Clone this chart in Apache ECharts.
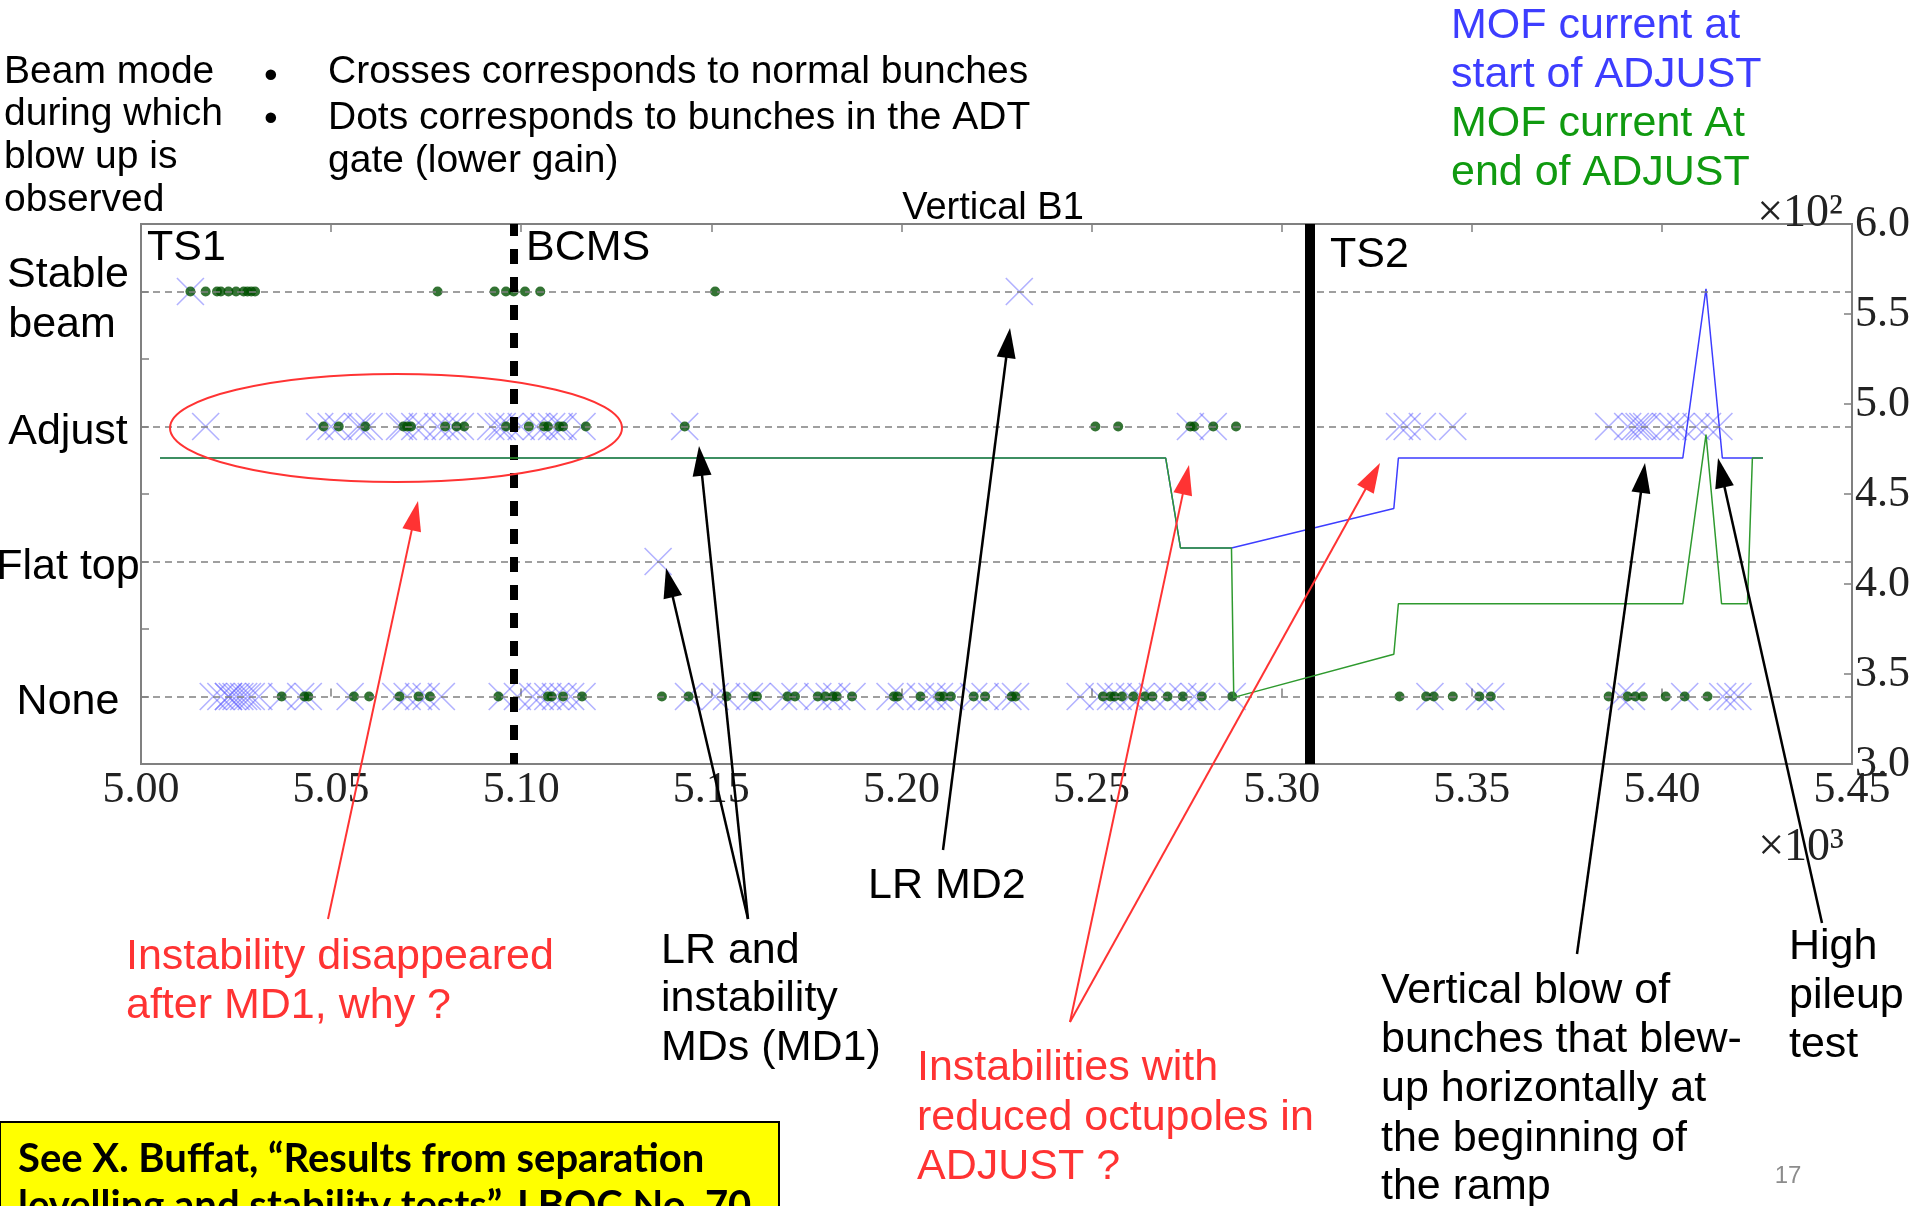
<!DOCTYPE html>
<html>
<head>
<meta charset="utf-8">
<script src="https://cdn.jsdelivr.net/npm/echarts@6/dist/echarts.min.js"></script>
<style>
html, body { margin: 0; padding: 0; background: #fff; }
#chart { width: 1917px; height: 1206px; }
</style>
</head>
<body>
<div id="chart"></div>
<script>
// Beam modes on the left axis (0 = None ... 3 = Stable beam)
const modeNames = ['None', 'Flat top', 'Adjust', 'Stable\nbeam '];

// Fill numbers with vertical blow-up, normal bunches (crosses)
const stableCross = [5013, 5231];
const adjustCross = [5017, 5047, 5050, 5052, 5057, 5058, 5060, 5068, 5069, 5072, 5074, 5078, 5080, 5082, 5084,
  5092, 5094, 5095, 5097, 5100, 5104, 5106, 5108, 5110, 5111, 5116, 5143, 5276, 5282,
  5331, 5333, 5337, 5345, 5386, 5391, 5393, 5394, 5395, 5396, 5401, 5403, 5405, 5409, 5412, 5415];
const flatTopCross = [5136];
const noneCross = [5019, 5021, 5023, 5023, 5024, 5025, 5026, 5027, 5028, 5029, 5031, 5037, 5042, 5044, 5055,
  5067, 5070, 5073, 5075, 5079, 5095, 5099, 5103, 5105, 5107, 5109, 5111, 5113, 5116,
  5144, 5151, 5154, 5160, 5162, 5169, 5172, 5178, 5181, 5183, 5187, 5197, 5200, 5205, 5208, 5210, 5213,
  5219, 5222, 5228, 5230, 5247, 5252, 5255, 5257, 5260, 5263, 5266, 5270, 5274, 5277, 5279, 5287,
  5339, 5352, 5355, 5389, 5392, 5406, 5416, 5418, 5420];

// Fill numbers with vertical blow-up, bunches in the ADT gate (dots)
const stableDot = [5013, 5017, 5020, 5021, 5023, 5025, 5027, 5028, 5029, 5030, 5078, 5093, 5096, 5098, 5101, 5105, 5151];
const adjustDot = [5048, 5052, 5059, 5069, 5070, 5071, 5080, 5083, 5085, 5096, 5102, 5106, 5107, 5110, 5111, 5117,
  5143, 5251, 5257, 5276, 5277, 5282, 5288];
const flatTopDot = [];
const noneDot = [5037, 5043, 5044, 5056, 5060, 5068, 5073, 5076, 5094, 5107, 5108, 5111, 5116,
  5137, 5144, 5154, 5161, 5162, 5170, 5172, 5178, 5180, 5182, 5183, 5187, 5198, 5199, 5205, 5210, 5211, 5213,
  5219, 5222, 5229, 5230, 5253, 5255, 5256, 5258, 5261, 5264, 5266, 5270, 5274, 5279, 5287,
  5331, 5338, 5340, 5345, 5352, 5355, 5386, 5391, 5393, 5395, 5401, 5406, 5412];

// MOF (octupole) current [A] at start / end of ADJUST vs fill number (right axis)
const mofStartFill = [5005, 5269.5, 5273.4, 5286.8, 5329.5, 5330.7, 5405.5, 5406.6, 5411.6, 5415.9, 5426.6];
const mofStartAmp  = [470, 470, 420, 420, 442, 470, 470, 487, 564, 470, 470];
const mofEndFill = [5005, 5269.5, 5273.4, 5286.8, 5287.4, 5329.5, 5330.7, 5405.5, 5411.6, 5415.7, 5422.5, 5423.8, 5426.6];
const mofEndAmp  = [470, 470, 420, 420, 337, 361, 389, 389, 483, 389, 389, 470, 470];

// Period boundaries (fill numbers): start of BCMS beams, technical stop 2
const bcmsFill = 5098;
const ts2Fill = 5307.5;

const SANS = '"Liberation Sans", Arial, sans-serif';
const SERIF = '"Liberation Serif", "Times New Roman", serif';
const RED = '#ff3333';
const BLUE = '#3d3dff';
const GREEN = '#109a10';

function pts(xs, level) { return xs.map(x => [x, level]); }
function pairs(xs, ys) { return xs.map((x, i) => [x, ys[i]]); }

const crossData = [].concat(pts(noneCross, 0), pts(flatTopCross, 1), pts(adjustCross, 2), pts(stableCross, 3));
const dotData = [].concat(pts(noneDot, 0), pts(flatTopDot, 1), pts(adjustDot, 2), pts(stableDot, 3));

// beam-mode label: single names sit a little below their level, the two-line one uses its own spacing
function modeLabel(v) {
  if (!Number.isInteger(v)) return '';
  const name = modeNames[v];
  if (name.indexOf('\n') >= 0) return name.split('\n').map(s => '{m|' + s + '}').join('\n');
  return '{s|' + name + '}';
}

// one line of slide text; y is the visual centre of the line
function txt(x, y, s, size, color, extra) {
  extra = extra || {};
  const dy = extra.dy === undefined ? 3 : extra.dy;
  return {
    type: 'text', x: x, y: y + dy, z: 100,
    style: {
      text: s,
      font: (extra.weight || 'normal') + ' ' + size + 'px ' + (extra.family || SANS),
      fill: color,
      align: extra.align || 'left',
      verticalAlign: 'middle'
    }
  };
}

function arrow(x1, y1, x2, y2, color, w) {
  const dx = x2 - x1, dy = y2 - y1, len = Math.hypot(dx, dy);
  const ux = dx / len, uy = dy / len, L = 30, hw = 9.5;
  const bx = x2 - ux * L, by = y2 - uy * L;
  return [
    { type: 'line', z: 100, shape: { x1: x1, y1: y1, x2: bx + ux * 2, y2: by + uy * 2 },
      style: { stroke: color, lineWidth: w } },
    { type: 'polygon', z: 100,
      shape: { points: [[x2, y2], [bx - uy * hw, by + ux * hw], [bx + uy * hw, by - ux * hw]] },
      style: { fill: color } }
  ];
}

const BOXFONT = 'Lato, "Open Sans", sans-serif';

const graphics = [
  // header notes
  txt(4, 69, 'Beam mode', 39, '#000'),
  txt(4, 111, 'during which', 39, '#000'),
  txt(4, 154, 'blow up is', 39, '#000'),
  txt(4, 197, 'observed', 39, '#000'),
  txt(264, 74, '\u2022', 39, '#000'),
  txt(264, 117, '\u2022', 39, '#000'),
  txt(328, 69, 'Crosses corresponds to normal bunches', 39, '#000'),
  txt(328, 115, 'Dots corresponds to bunches in the ADT', 39, '#000'),
  txt(328, 158, 'gate (lower gain)', 39, '#000'),
  txt(993, 206, 'Vertical B1', 38, '#000', { align: 'center' }),
  txt(1451, 23, 'MOF current at', 43, BLUE),
  txt(1451, 72, 'start of ADJUST', 43, BLUE),
  txt(1451, 121, 'MOF current At', 43, GREEN),
  txt(1451, 170, 'end of ADJUST', 43, GREEN),
  // period labels inside the plot
  txt(147, 245, 'TS1', 43, '#000'),
  txt(526, 245, 'BCMS', 43, '#000'),
  txt(1330, 252, 'TS2', 43, '#000'),
  // axis multipliers
  txt(1800, 211, '\u00d710\u00b2', 46, '#222', { family: SERIF, align: 'center' }),
  txt(1801, 845, '\u00d710\u00b3', 46, '#222', { family: SERIF, align: 'center' }),
  // highlighted group in ADJUST
  { type: 'ellipse', z: 100, shape: { cx: 396, cy: 428, rx: 226, ry: 54 },
    style: { stroke: RED, fill: null, lineWidth: 2 } },
  // annotations
  txt(126, 954, 'Instability disappeared', 43, RED),
  txt(126, 1003, 'after MD1, why ?', 43, RED),
  txt(661, 948, 'LR and', 43, '#000'),
  txt(661, 996, 'instability', 43, '#000'),
  txt(661, 1045, 'MDs (MD1)', 43, '#000'),
  txt(868, 883, 'LR MD2', 43, '#000'),
  txt(917, 1065, 'Instabilities with', 43, RED),
  txt(917, 1115, 'reduced octupoles in', 43, RED),
  txt(917, 1164, 'ADJUST ?', 43, RED),
  txt(1381, 988, 'Vertical blow of', 43, '#000'),
  txt(1381, 1037, 'bunches that blew-', 43, '#000'),
  txt(1381, 1086, 'up horizontally at', 43, '#000'),
  txt(1381, 1136, 'the beginning of', 43, '#000'),
  txt(1381, 1184, 'the ramp', 43, '#000'),
  txt(1789, 944, 'High', 43, '#000'),
  txt(1789, 993, 'pileup', 43, '#000'),
  txt(1789, 1042, 'test', 43, '#000'),
  txt(1788, 1176, '17', 24, '#8c8c8c', { align: 'center', dy: 0 }),
  // reference box
  { type: 'rect', z: 100, shape: { x: 0, y: 1122, width: 779, height: 120 },
    style: { fill: '#ffff00', stroke: '#000', lineWidth: 2 } },
  txt(18, 1159, 'See X. Buffat, \u201cResults from separation', 40, '#000', { weight: 'bold', family: BOXFONT, dy: 0 }),
  txt(18, 1206, 'levelling and stability tests\u201d, LBOC No. 70', 40, '#000', { weight: 'bold', family: BOXFONT, dy: 0 })
]
  .concat(arrow(328, 919, 418, 501, RED, 2))
  .concat(arrow(1070, 1022, 1189, 465, RED, 2))
  .concat(arrow(1070, 1022, 1380, 463, RED, 2))
  .concat(arrow(748, 919, 666, 568, '#000', 2.5))
  .concat(arrow(748, 919, 699, 446, '#000', 2.5))
  .concat(arrow(943, 850, 1010, 328, '#000', 2.5))
  .concat(arrow(1577, 954, 1645, 463, '#000', 2.5))
  .concat(arrow(1822, 923, 1718, 458, '#000', 2.5));

const tickStyle = { inside: true, length: 8, lineStyle: { color: '#808080', width: 1.5 } };

const option = {
  animation: false,
  backgroundColor: '#fff',
  grid: { left: 141, top: 224, width: 1711, height: 540, show: true, borderColor: '#808080', borderWidth: 2,
    containLabel: false, outerBoundsMode: 'none' },
  xAxis: [
    { type: 'value', position: 'bottom', min: 5000, max: 5450, interval: 50,
      axisLine: { show: false }, axisTick: tickStyle, splitLine: { show: false },
      axisLabel: { formatter: v => (v / 1000).toFixed(2), fontFamily: SERIF, fontSize: 44, color: '#222', margin: 4 } },
    { type: 'value', position: 'top', min: 5000, max: 5450, interval: 50,
      axisLine: { show: false }, axisTick: tickStyle, splitLine: { show: false }, axisLabel: { show: false } }
  ],
  yAxis: [
    { type: 'value', position: 'left', min: -0.5, max: 3.5, interval: 0.5,
      axisLine: { show: false }, axisTick: tickStyle, splitLine: { show: false },
      axisLabel: { formatter: modeLabel, fontFamily: SANS, fontSize: 43, color: '#000', align: 'center', margin: 73,
        rich: {
          s: { fontFamily: SANS, fontSize: 43, color: '#000', padding: [12, 0, 0, 0] },
          m: { fontFamily: SANS, fontSize: 43, color: '#000', lineHeight: 50, padding: [18, 0, 0, 0] }
        } } },
    { type: 'value', position: 'right', min: 300, max: 600, interval: 50,
      axisLine: { show: false }, axisTick: tickStyle, splitLine: { show: false },
      axisLabel: { formatter: v => (v / 100).toFixed(1), fontFamily: SERIF, fontSize: 44, color: '#222', align: 'left', margin: 3 } }
  ],
  series: [
    { // dashed guide lines at each beam mode
      type: 'scatter', xAxisIndex: 0, yAxisIndex: 0, data: [], z: 1, silent: true,
      markLine: { silent: true, symbol: 'none', label: { show: false },
        lineStyle: { color: '#808080', type: [7, 5], width: 1.5 },
        data: [{ yAxis: 0 }, { yAxis: 1 }, { yAxis: 2 }, { yAxis: 3 }] } },
    { name: 'normal bunches', type: 'scatter', xAxisIndex: 0, yAxisIndex: 0, z: 2,
      symbol: 'path://M0,0L10,10M10,0L0,10', symbolSize: 27, data: crossData,
      itemStyle: { color: 'transparent', borderColor: 'rgba(80,80,255,0.55)', borderWidth: 1.6 } },
    { name: 'ADT gate bunches', type: 'scatter', xAxisIndex: 0, yAxisIndex: 0, z: 3,
      symbol: 'circle', symbolSize: 10, data: dotData, itemStyle: { color: '#005000' } },
    { name: 'MOF start', type: 'line', xAxisIndex: 0, yAxisIndex: 1, z: 4, showSymbol: false,
      data: pairs(mofStartFill, mofStartAmp), lineStyle: { color: BLUE, width: 1.5 } },
    { name: 'MOF end', type: 'line', xAxisIndex: 0, yAxisIndex: 1, z: 5, showSymbol: false,
      data: pairs(mofEndFill, mofEndAmp), lineStyle: { color: '#2f9a2f', width: 1.5 } },
    { // period boundaries
      type: 'scatter', xAxisIndex: 0, yAxisIndex: 0, data: [], z: 6, silent: true,
      markLine: { silent: true, symbol: 'none', label: { show: false },
        data: [
          { xAxis: bcmsFill, lineStyle: { color: '#000', width: 8, type: [15, 13], dashOffset: 4 } },
          { xAxis: ts2Fill, lineStyle: { color: '#000', width: 10, type: 'solid' } }
        ] } }
  ],
  graphic: graphics
};

const chart = echarts.init(document.getElementById('chart'), null, { renderer: 'canvas' });
chart.setOption(option);
</script>
</body>
</html>
